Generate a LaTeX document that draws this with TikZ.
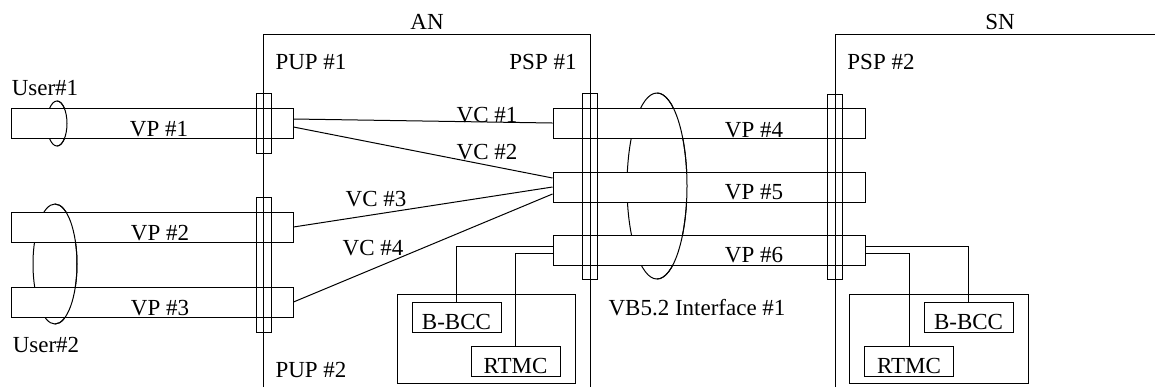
\documentclass[tikz,border=0pt]{standalone}
\usepackage{fontspec}
\setmainfont{Liberation Serif}
\usepackage{tikz}
\usetikzlibrary{calc}

\tikzset{
  vpbar/.style={draw, fill=white, minimum height=15pt, inner sep=0pt},
  portbar/.style={draw, minimum width=7.5pt, inner sep=0pt},
  unitbox/.style={draw, inner sep=0pt, minimum width=44.5pt, text height=13.5pt, text depth=1.5pt, font=\fontsize{11.5}{13}\selectfont},
  lbl/.style={inner sep=0pt, font=\fontsize{11.5}{13}\selectfont},
}

\begin{document}
\begin{tikzpicture}[x=0.5pt, y=-0.5pt, line width=0.5pt]
        \useasboundingbox (0,0) rectangle (1155,387);

        % Draw the bundles (back halves get hidden by the pipes)
        \draw (57,123.5) ellipse (10 and 22.5);
        \draw (55,264) ellipse (22 and 60);
        \draw (657,186) ellipse (30 and 93);

        % Draw the VP pipes
        \node[vpbar, minimum width=141pt] (vp1) at (152,123) {};
        \node[vpbar, minimum width=141pt] (vp2) at (152,227) {};
        \node[vpbar, minimum width=141pt] (vp3) at (152,302) {};
        \node[vpbar, minimum width=156pt] (vp4) at (709,123) {};
        \node[vpbar, minimum width=156pt] (vp5) at (709,187) {};
        \node[vpbar, minimum width=156pt] (vp6) at (709,250) {};

        % Front halves of the bundles
        \draw (57,101) arc (-90:90:10 and 22.5);
        \draw (55,204) arc (-90:90:22 and 60);
        \draw (657,93) arc (-90:90:30 and 93);

        % Draw the AN and SN frames
        \draw (263,387) -- (263,34) -- (590,34) -- (590,387);
        \draw (835,387) -- (835,34) -- (1155,34);
        \node[lbl] (an) at (427,22) {AN};
        \node[lbl] (sn) at (1000,22) {SN};

        % Ports
        \node[portbar, minimum height=30pt] (pup1) at (263.5,123) {};
        \node[portbar, minimum height=67.5pt] (pup2) at (263.5,264.5) {};
        \node[portbar, minimum height=93pt] (psp1) at (590,186) {};
        \node[portbar, minimum height=92.5pt] (psp2) at (835,186.5) {};
        \node[lbl] (pup1l) at (311,62) {PUP \#1};
        \node[lbl] (pup2l) at (311,370) {PUP \#2};
        \node[lbl] (psp1l) at (543,62) {PSP \#1};
        \node[lbl] (psp2l) at (881,62) {PSP \#2};

        % VC cross connections
        \draw ($(vp1.east)+(0,-4)$) -- (vp4.west);
        \draw ($(vp1.east)+(0,4)$) -- ($(vp5.west)+(0,-9)$);
        \draw (vp2.east) -- (vp5.west);
        \draw (vp3.east) -- ($(vp5.west)+(0,7)$);
        \node[lbl] (vc1) at (487,115) {VC \#1};
        \node[lbl] (vc2) at (487,152) {VC \#2};
        \node[lbl] (vc3) at (376,199) {VC \#3};
        \node[lbl] (vc4) at (373,248) {VC \#4};

        % VP and user labels
        \node[lbl] (vp1l) at (159,129) {VP \#1};
        \node[lbl] (vp2l) at (160,233) {VP \#2};
        \node[lbl] (vp3l) at (160,308) {VP \#3};
        \node[lbl] (vp4l) at (754,130) {VP \#4};
        \node[lbl] (vp5l) at (754,192) {VP \#5};
        \node[lbl] (vp6l) at (754,255) {VP \#6};
        \node[lbl] (user1) at (45,88) {User\#1};
        \node[lbl] (user2) at (46,345) {User\#2};
        \node[lbl] (vb) at (697,308) {VB5.2 Interface \#1};

        % Control units in AN and SN
        \node[draw, minimum width=89pt, minimum height=44.5pt] (unitA) at (486,338.5) {};
        \node[unitbox] (bbccA) at (456.5,317) {B-BCC};
        \node[unitbox] (rtmcA) at (515.5,361.5) {RTMC};
        \node[draw, minimum width=89.5pt, minimum height=44.5pt] (unitB) at (938.5,338.5) {};
        \node[unitbox] (bbccB) at (968.5,317) {B-BCC};
        \node[unitbox] (rtmcB) at (909,361.5) {RTMC};

        \draw ($(vp6.west)+(0,-4)$) -| (bbccA.north);
        \draw ($(vp6.west)+(0,3)$) -| (rtmcA.north);
        \draw ($(vp6.east)+(0,-4)$) -| (bbccB.north);
        \draw ($(vp6.east)+(0,3)$) -| (rtmcB.north);
\end{tikzpicture}
\end{document}
